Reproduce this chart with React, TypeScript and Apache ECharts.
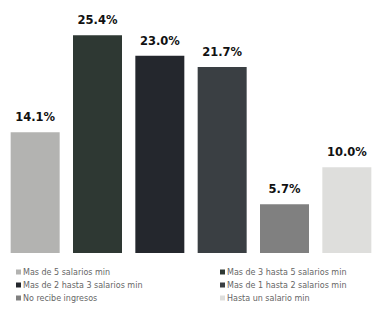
import React, { useEffect, useRef } from "react";
import * as echarts from "echarts";

const categories = [
  "Mas de 5 salarios min",
  "Mas de 3 hasta 5 salarios min",
  "Mas de 2 hasta 3 salarios min",
  "Mas de 1 hasta 2 salarios min",
  "No recibe ingresos",
  "Hasta un salario min",
];
const values = [14.1, 25.4, 23.0, 21.7, 5.7, 10.0];
const colors = ["#b3b3b1", "#2e3833", "#24272d", "#3a3f43", "#808080", "#dededc"];
const leftLegend = [categories[0], categories[2], categories[4]];
const rightLegend = [categories[1], categories[3], categories[5]];

export default function App() {
  const ref = useRef<HTMLDivElement>(null);
  useEffect(() => {
    if (!ref.current) return;
    const chart = echarts.init(ref.current, null, { renderer: "svg" });
    const series = categories.map((name, i) => ({
      name,
      type: "bar",
      stack: "all",
      barWidth: 49,
      itemStyle: { color: colors[i] },
      data: values.map((v, j) => (j === i ? v : null)),
      label: {
        show: true,
        position: "top",
        distance: 9,
        formatter: (p: any) => (p.value == null ? "" : `${p.value.toFixed(1)}%`),
        fontFamily: "DejaVu Sans",
        fontWeight: "bold",
        fontSize: 11.5,
        color: "#111",
      },
    }));
    const legendCommon = {
      orient: "vertical",
      itemWidth: 5,
      itemHeight: 5,
      itemGap: 5,
      icon: "rect",
      textStyle: { fontSize: 8, color: "#666", fontFamily: "DejaVu Sans", padding: [0, 0, 0, -3] },
      padding: 0,
    };
    chart.setOption({
      animation: false,
      grid: { left: 4, right: 14, top: 13, bottom: 66 },
      xAxis: { type: "category", data: categories, show: false },
      yAxis: { type: "value", min: 0, max: 28, show: false },
      legend: [
        { ...legendCommon, left: 16, top: 268, data: leftLegend },
        { ...legendCommon, left: 220, top: 268, data: rightLegend },
      ],
      series,
    });
    return () => chart.dispose();
  }, []);
  return <div ref={ref} style={{ width: 392, height: 319, position: "absolute", left: 0, top: 0 }} />;
}
